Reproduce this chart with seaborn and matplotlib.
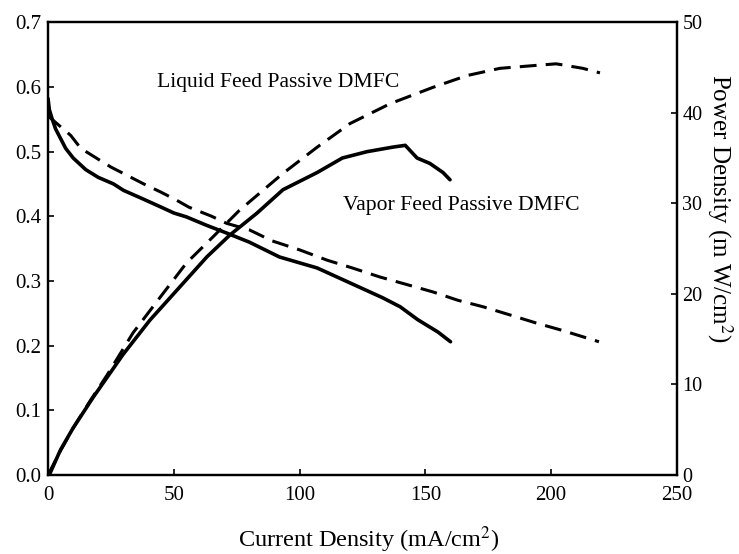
import matplotlib
matplotlib.use("Agg")
import matplotlib.pyplot as plt
import seaborn as sns
from matplotlib.ticker import FormatStrFormatter

# ---- data ----
liq_v_i = [0, 3, 6, 9, 13, 20, 25, 31, 38, 45, 51, 56, 65, 71, 80, 89, 100, 111,
           121, 132, 143, 153, 163, 173, 184, 194, 204, 214, 219]
liq_v = [0.555, 0.545, 0.535, 0.525, 0.505, 0.488, 0.476, 0.464, 0.450, 0.437,
         0.425, 0.414, 0.400, 0.389, 0.379, 0.362, 0.348, 0.332, 0.320, 0.306,
         0.294, 0.283, 0.270, 0.260, 0.247, 0.235, 0.224, 0.212, 0.206]

vap_v_i = [0, 0.5, 1.5, 3, 5, 7, 10, 15, 20, 26, 30, 37, 45, 50, 55, 63, 71, 80,
           92, 107, 120, 133, 140, 147, 155, 160]
vap_v = [0.582, 0.565, 0.552, 0.535, 0.520, 0.505, 0.490, 0.472, 0.460, 0.450,
         0.440, 0.428, 0.414, 0.405, 0.399, 0.386, 0.374, 0.360, 0.337, 0.320,
         0.297, 0.274, 0.260, 0.240, 0.221, 0.206]

liq_p_i = [0, 5, 10, 17, 23.4, 33.8, 44.5, 55, 65.6, 76, 87, 93.4, 107, 120, 136,
           153, 166.5, 179.6, 192.8, 202, 212.6, 219.4]
liq_p = [0, 2.7, 5.2, 8.3, 11.0, 15.7, 19.6, 23.4, 26.3, 29.2, 31.8, 33.3, 36.2,
         38.8, 41.0, 42.8, 44.1, 44.9, 45.2, 45.4, 44.9, 44.4]

vap_p_i = [0, 0.8, 5, 10, 18, 29.8, 40.5, 52.5, 63.2, 72.3, 83, 93.4, 107, 117,
           126.8, 137, 142, 146.7, 151.8, 157, 159.8]
vap_p = [0, 0.2, 2.8, 5.2, 8.6, 13.3, 17.1, 20.8, 24.1, 26.5, 28.9, 31.5, 33.4,
         35.0, 35.7, 36.2, 36.4, 35.0, 34.4, 33.4, 32.6]

x_ticks = [0, 50, 100, 150, 200, 250]
v_ticks = [0.0, 0.1, 0.2, 0.3, 0.4, 0.5, 0.6, 0.7]
p_ticks = [0, 10, 20, 30, 40, 50]

sns.set_theme(style="white")
plt.rcParams["font.family"] = ["Liberation Serif", "DejaVu Serif"]
plt.rcParams["mathtext.fontset"] = "stix"

fig = plt.figure(figsize=(7.39, 5.54), dpi=100)
ax = fig.add_axes([0.065, 0.1426, 0.851, 0.8174])
ax2 = ax.twinx()

dash = (0, (5.5, 3))
black = "black"

sns.lineplot(x=liq_v_i, y=liq_v, ax=ax, color=black, lw=2.2, linestyle=dash,
             sort=False, estimator=None)
sns.lineplot(x=vap_v_i, y=vap_v, ax=ax, color=black, lw=2.6,
             sort=False, estimator=None)
sns.lineplot(x=liq_p_i, y=liq_p, ax=ax2, color=black, lw=2.2, linestyle=dash,
             sort=False, estimator=None)
sns.lineplot(x=vap_p_i, y=vap_p, ax=ax2, color=black, lw=2.6,
             sort=False, estimator=None)

ax.set_xlim(0, 250)
ax.set_ylim(0, 0.7)
ax2.set_ylim(0, 50)
ax.set_xticks(x_ticks)
ax.set_yticks(v_ticks)
ax2.set_yticks(p_ticks)
ax.yaxis.set_major_formatter(FormatStrFormatter("%.1f"))

for a in (ax, ax2):
    for s in a.spines.values():
        s.set_linewidth(1.6)
        s.set_color("black")
ax.tick_params(axis="both", direction="in", length=4, width=1.2, labelsize=15,
               colors="black", pad=5)
ax.tick_params(axis="x", bottom=True, top=False, pad=8)
ax.tick_params(axis="y", left=True, right=False)
ax2.tick_params(axis="y", direction="in", length=4, width=1.2, labelsize=14.5,
                right=True, left=False, colors="black", pad=4)

ax.set_ylabel("")
ax.set_xlabel("Current Density (mA/cm$^2$)", fontsize=17.5, color="black")
ax.xaxis.set_label_coords(0.51, -0.108)
ax2.set_ylabel("Power Density (m W/cm$^2$)", fontsize=18, color="black",
               rotation=270, va="bottom")
ax2.yaxis.set_label_coords(1.045, 0.588)

ax.text(43.3, 0.606, "Liquid Feed Passive DMFC", fontsize=15.6, va="center",
        ha="left", color="black")
ax.text(117.2, 0.417, "Vapor Feed Passive DMFC", fontsize=15.6, va="center",
        ha="left", color="black")

fig.savefig("out.png", dpi=100)
